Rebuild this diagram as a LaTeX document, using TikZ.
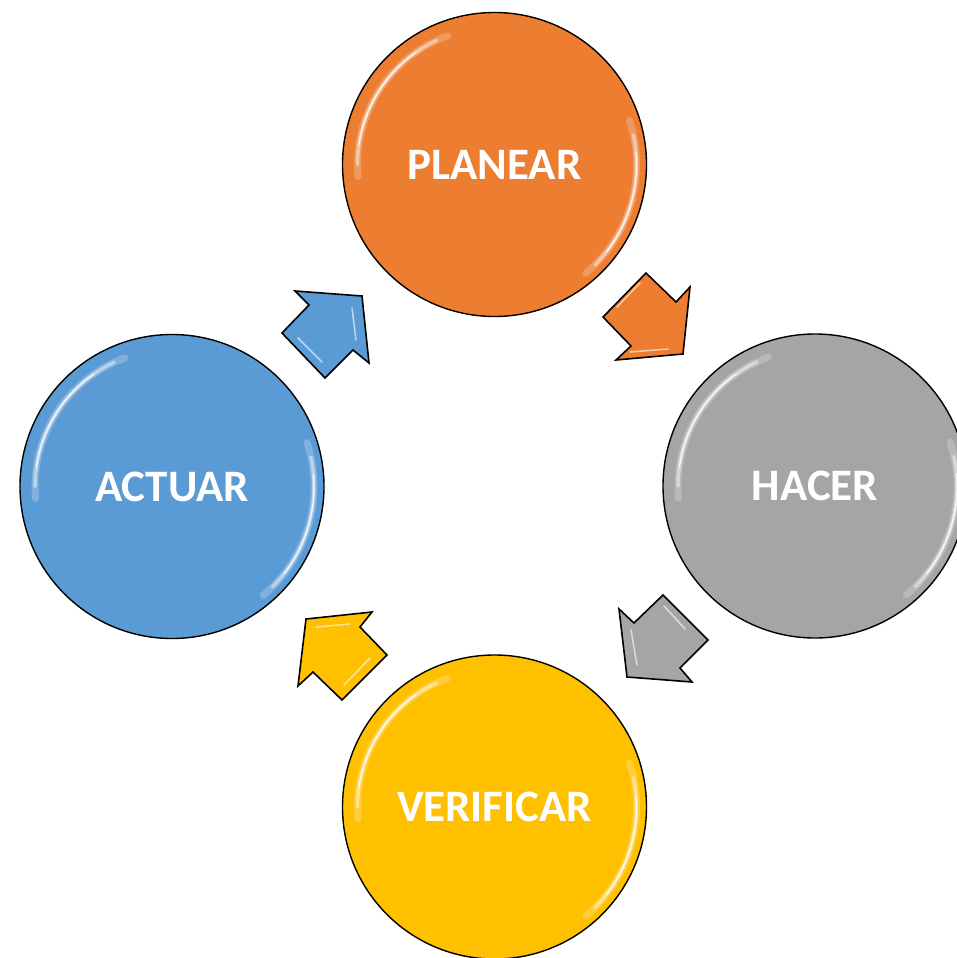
\documentclass[tikz,border=0pt]{standalone}
\usepackage{fontspec}
\setmainfont{Carlito}
\definecolor{cOrange}{HTML}{ED7D31}
\definecolor{cGray}{HTML}{A5A5A5}
\definecolor{cYellow}{HTML}{FFC000}
\definecolor{cBlue}{HTML}{5B9BD5}
\begin{document}
\begin{tikzpicture}[x=1pt,y=-1pt,
  disc/.style={circle, draw=black, line width=1.4pt, minimum size=304pt, inner sep=0pt},
  lbl/.style={text=white, font=\bfseries\fontsize{45}{52}\selectfont, inner sep=0pt},
  blockarrow/.style={draw=black, line width=1.6pt, line join=miter},
  glosswide/.style={white, line cap=round, opacity=0.22, line width=7pt},
  gloss/.style={white, line cap=round, opacity=0.45, line width=3.5pt},
  glossthin/.style={white, line cap=round, opacity=0.85, line width=1.2pt},
  bevel/.style={white, opacity=0.6, line width=1.5pt, line cap=round}
]
\useasboundingbox (0,0) rectangle (956,958);
\fill[white] (0,0) rectangle (956,958);

% circles
\node[disc, fill=cOrange] (plan) at (494.5,164.5) {};
\node[disc, fill=cGray]   (hacer) at (815,486) {};
\node[disc, fill=cYellow] (verif) at (494.5,807) {};
\node[disc, fill=cBlue]   (actuar) at (172,486.5) {};

% gloss highlights
\foreach \c in {plan,hacer,verif,actuar}{
  \draw[glosswide] (\c.center) ++(175:137) arc[start angle=175, end angle=250, radius=137];
  \draw[gloss] (\c.center) ++(180:137) arc[start angle=180, end angle=245, radius=137];
  \draw[glossthin] (\c.center) ++(188:137) arc[start angle=188, end angle=235, radius=137];
  \draw[glosswide] (\c.center) ++(-18:142) arc[start angle=-18, end angle=50, radius=142];
  \draw[gloss] (\c.center) ++(-12:142) arc[start angle=-12, end angle=45, radius=142];
  \draw[glossthin] (\c.center) ++(-5:142) arc[start angle=-5, end angle=38, radius=142];
}

% labels
\foreach \c/\t in {plan/PLANEAR,hacer/HACER,verif/VERIFICAR,actuar/ACTUAR}{
  \node[lbl] (\c-lbl) at (\c.center) {\t};
}

% block arrows
\draw[blockarrow, fill=cOrange] (646,273) -- (603,317) -- (631,346) -- (616,360) -- (683,354) -- (690,287) -- (676,302) -- cycle;
\draw[blockarrow, fill=cGray] (663,595) -- (708,640) -- (680,668) -- (692,682) -- (627,677) -- (619,609) -- (634,623) -- cycle;
\draw[blockarrow, fill=cYellow] (306,619) -- (372,612) -- (360,627) -- (387,655) -- (342,700) -- (313,672) -- (298,686) -- cycle;
\draw[blockarrow, fill=cBlue] (295,291) -- (362,296) -- (369,363) -- (353,350) -- (325,378) -- (282,333) -- (309,305) -- cycle;

% arrow bevel highlights
\draw[bevel] (640,283) -- (617,307);
\draw[bevel] (630,352) -- (668,349);
\draw[bevel] (664,606) -- (685,629);
\draw[bevel] (631,630) -- (637,665);
\draw[bevel] (316,627) -- (350,624);
\draw[bevel] (344,685) -- (370,658);
\draw[bevel] (298,338) -- (322,362);
\draw[bevel] (352,308) -- (356,340);
\end{tikzpicture}
\end{document}
